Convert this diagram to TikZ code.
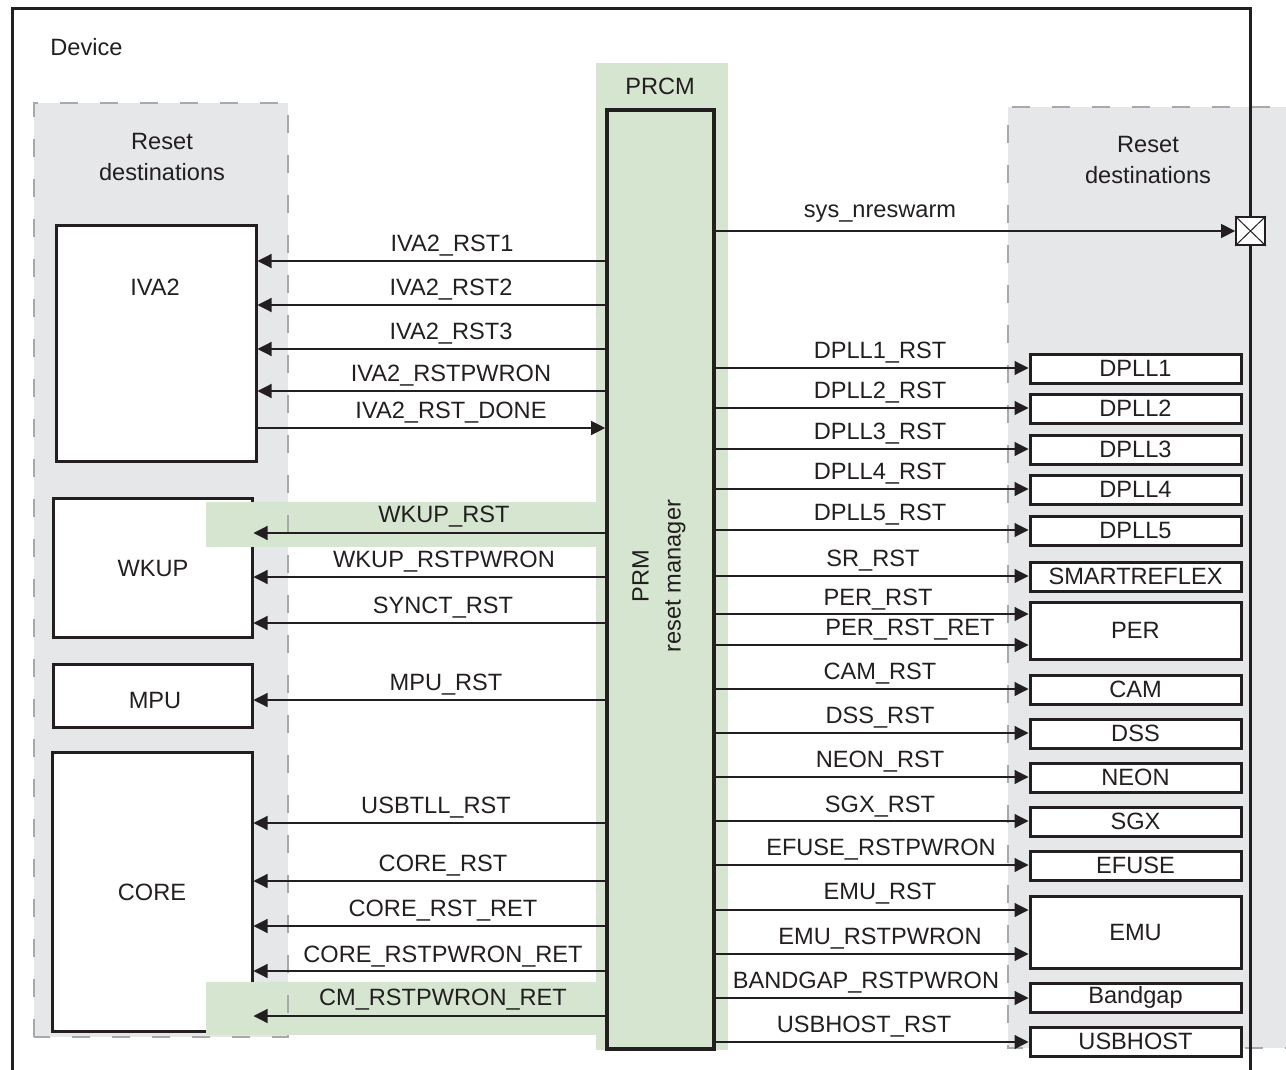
\documentclass[tikz,border=0pt]{standalone}
\usepackage{fontspec}
\setmainfont{Liberation Sans}
\usetikzlibrary{arrows.meta,fit}
\definecolor{ink}{HTML}{231F20}
\definecolor{grayfill}{HTML}{E6E7E8}
\definecolor{dashgray}{HTML}{A7A9AC}
\definecolor{prcmgreen}{HTML}{D5E5D0}
\begin{document}
\begin{tikzpicture}[x=0.5pt,y=-0.5pt,
 every node/.style={font=\fontsize{11.8}{15.5}\selectfont, text=ink},
 blk/.style={draw=ink, line width=1.5pt, fill=white, inner sep=0pt},
 lab/.style={anchor=base, inner sep=0pt},
 txt/.style={inner sep=0pt},
 sig/.style={draw=ink, line width=0.6pt, -{Triangle[length=7pt,width=7pt]}},
 region/.style={draw=dashgray, line width=1.2pt, dash pattern=on 9pt off 11pt},
 band/.style={fill=prcmgreen, draw=none}
]
\useasboundingbox (0,0) rectangle (1286,1070);
\clip (0,0) rectangle (1286,1070);

% gray regions
\fill[grayfill] (34,103) rectangle (288,1037);
\fill[grayfill] (1008,107) rectangle (1310,1048);
% PRCM green region
\fill[prcmgreen] (596,63) rectangle (728,1050);

% dashed region borders
\draw[region] (34,1037) -- (34,103) -- (288,103) -- (288,1037) -- cycle;
\draw[region] (1310,107) -- (1008,107) -- (1008,1048) -- (1310,1048);

% left boxes
\node[blk, fit={(56,225) (256,461)}] (iva2) {};
\node[blk, fit={(53,498) (252,637)}] (wkup) {};
\node[blk, fit={(53,664) (252,727)}] (mpu) {};
\node[blk, fit={(52,752) (252,1031)}] (core) {};
\node[txt] (iva2t) at (155,287) {IVA2};
\node[txt] (wkupt) at (153,568) {WKUP};
\node[txt] (mput) at (155,700) {MPU};
\node[txt] (coret) at (152,892) {CORE};

% right boxes
\node[blk, fit={(1030,354) (1241,383)}, label=center:DPLL1] (dpll1) {};
\node[blk, fit={(1030,394) (1241,423)}, label=center:DPLL2] (dpll2) {};
\node[blk, fit={(1030,435) (1241,464)}, label=center:DPLL3] (dpll3) {};
\node[blk, fit={(1030,475) (1241,504)}, label=center:DPLL4] (dpll4) {};
\node[blk, fit={(1030,516) (1241,545)}, label=center:DPLL5] (dpll5) {};
\node[blk, fit={(1030,562) (1241,591)}, label=center:SMARTREFLEX] (sr) {};
\node[blk, fit={(1030,602) (1241,659)}, label=center:PER] (per) {};
\node[blk, fit={(1030,675) (1241,704)}, label=center:CAM] (cam) {};
\node[blk, fit={(1030,719) (1241,748)}, label=center:DSS] (dss) {};
\node[blk, fit={(1030,763) (1241,792)}, label=center:NEON] (neon) {};
\node[blk, fit={(1030,807) (1241,836)}, label=center:SGX] (sgx) {};
\node[blk, fit={(1030,851) (1241,880)}, label=center:EFUSE] (efuse) {};
\node[blk, fit={(1030,896) (1241,968)}, label=center:EMU] (emu) {};
\node[blk, fit={(1030,983) (1241,1012)}, label=center:Bandgap] (bandgap) {};
\node[blk, fit={(1030,1027) (1241,1056)}, label=center:USBHOST] (usbhost) {};

% green bands
\fill[band] (206,502) rectangle (597,547);
\fill[band] (206,982) rectangle (597,1035);
% dashed edge of left region visible over the bands
\draw[region] (34,1037) -- (34,103) -- (288,103) -- (288,1037) -- cycle;

% PRM box
\node[draw=ink, line width=1.8pt, inner sep=0pt, fit={(607,110) (714,1049)}] (prm) {};
\node[txt, rotate=90, align=center, font=\fontsize{11.8}{16}\selectfont] (prmt) at (659,576) {PRM\\reset manager};
\node[txt] (prcm) at (660,86) {PRCM};

% device border
\draw[ink, line width=1.5pt] (12,1080) -- (12,9) -- (1250,9) -- (1250,1080);
\node[txt, anchor=west] (dev) at (50,47) {Device};

% region titles
\node[txt, align=center] (rdl) at (162,157) {Reset\\destinations};
\node[txt, align=center] (rdr) at (1148,160) {Reset\\destinations};

% X box
\node[draw=ink, line width=0.9pt, fill=white, inner sep=0pt, fit={(1236,217) (1265,245)}] (xb) {};
\draw[ink, line width=0.5pt] (xb.north west) -- (xb.south east) (xb.north east) -- (xb.south west);

% left signals
\draw[sig] (prm.west |- 0,261) -- (iva2.east |- 0,261);
\draw[sig] (prm.west |- 0,305) -- (iva2.east |- 0,305);
\draw[sig] (prm.west |- 0,349) -- (iva2.east |- 0,349);
\draw[sig] (prm.west |- 0,391) -- (iva2.east |- 0,391);
\draw[sig] (iva2.east |- 0,428) -- (prm.west |- 0,428);
\draw[sig] (prm.west |- 0,533) -- (wkup.east |- 0,533);
\draw[sig] (prm.west |- 0,577) -- (wkup.east |- 0,577);
\draw[sig] (prm.west |- 0,623) -- (wkup.east |- 0,623);
\draw[sig] (prm.west |- 0,700) -- (mpu.east |- 0,700);
\draw[sig] (prm.west |- 0,823) -- (core.east |- 0,823);
\draw[sig] (prm.west |- 0,881) -- (core.east |- 0,881);
\draw[sig] (prm.west |- 0,926) -- (core.east |- 0,926);
\draw[sig] (prm.west |- 0,971) -- (core.east |- 0,971);
\draw[sig] (prm.west |- 0,1016) -- (core.east |- 0,1016);

\node[lab] (l1) at (452,251) {IVA2\_RST1};
\node[lab] (l2) at (451,295) {IVA2\_RST2};
\node[lab] (l3) at (451,339) {IVA2\_RST3};
\node[lab] (l4) at (451,381) {IVA2\_RSTPWRON};
\node[lab] (l5) at (451,418) {IVA2\_RST\_DONE};
\node[lab] (l6) at (444,522) {WKUP\_RST};
\node[lab] (l7) at (444,567) {WKUP\_RSTPWRON};
\node[lab] (l8) at (443,613) {SYNCT\_RST};
\node[lab] (l9) at (446,690) {MPU\_RST};
\node[lab] (l10) at (436,813) {USBTLL\_RST};
\node[lab] (l11) at (443,871) {CORE\_RST};
\node[lab] (l12) at (443,916) {CORE\_RST\_RET};
\node[lab] (l13) at (443,962) {CORE\_RSTPWRON\_RET};
\node[lab] (l14) at (443,1005) {CM\_RSTPWRON\_RET};

% right signals
\draw[sig] (prm.east |- 0,231) -- (xb.west);
\draw[sig] (prm.east |- 0,368) -- (dpll1.west |- 0,368);
\draw[sig] (prm.east |- 0,408) -- (dpll2.west |- 0,408);
\draw[sig] (prm.east |- 0,449) -- (dpll3.west |- 0,449);
\draw[sig] (prm.east |- 0,489) -- (dpll4.west |- 0,489);
\draw[sig] (prm.east |- 0,530) -- (dpll5.west |- 0,530);
\draw[sig] (prm.east |- 0,576) -- (sr.west |- 0,576);
\draw[sig] (prm.east |- 0,614) -- (per.west |- 0,614);
\draw[sig] (prm.east |- 0,645) -- (per.west |- 0,645);
\draw[sig] (prm.east |- 0,689) -- (cam.west |- 0,689);
\draw[sig] (prm.east |- 0,733) -- (dss.west |- 0,733);
\draw[sig] (prm.east |- 0,777) -- (neon.west |- 0,777);
\draw[sig] (prm.east |- 0,821) -- (sgx.west |- 0,821);
\draw[sig] (prm.east |- 0,865) -- (efuse.west |- 0,865);
\draw[sig] (prm.east |- 0,910) -- (emu.west |- 0,910);
\draw[sig] (prm.east |- 0,954) -- (emu.west |- 0,954);
\draw[sig] (prm.east |- 0,998) -- (bandgap.west |- 0,998);
\draw[sig] (prm.east |- 0,1042) -- (usbhost.west |- 0,1042);

\node[lab] (r0) at (880,218) {sys\_nreswarm};
\node[lab] (r1) at (880,358) {DPLL1\_RST};
\node[lab] (r2) at (880,398) {DPLL2\_RST};
\node[lab] (r3) at (880,439) {DPLL3\_RST};
\node[lab] (r4) at (880,479) {DPLL4\_RST};
\node[lab] (r5) at (880,520) {DPLL5\_RST};
\node[lab] (r6) at (873,566) {SR\_RST};
\node[lab] (r7) at (878,605) {PER\_RST};
\node[lab] (r8) at (910,635) {PER\_RST\_RET};
\node[lab] (r9) at (880,679) {CAM\_RST};
\node[lab] (r10) at (880,723) {DSS\_RST};
\node[lab] (r11) at (880,767) {NEON\_RST};
\node[lab] (r12) at (880,812) {SGX\_RST};
\node[lab] (r13) at (881,855) {EFUSE\_RSTPWRON};
\node[lab] (r14) at (880,899) {EMU\_RST};
\node[lab] (r15) at (880,944) {EMU\_RSTPWRON};
\node[lab] (r16) at (866,988) {BANDGAP\_RSTPWRON};
\node[lab] (r17) at (864,1032) {USBHOST\_RST};
\end{tikzpicture}
\end{document}
